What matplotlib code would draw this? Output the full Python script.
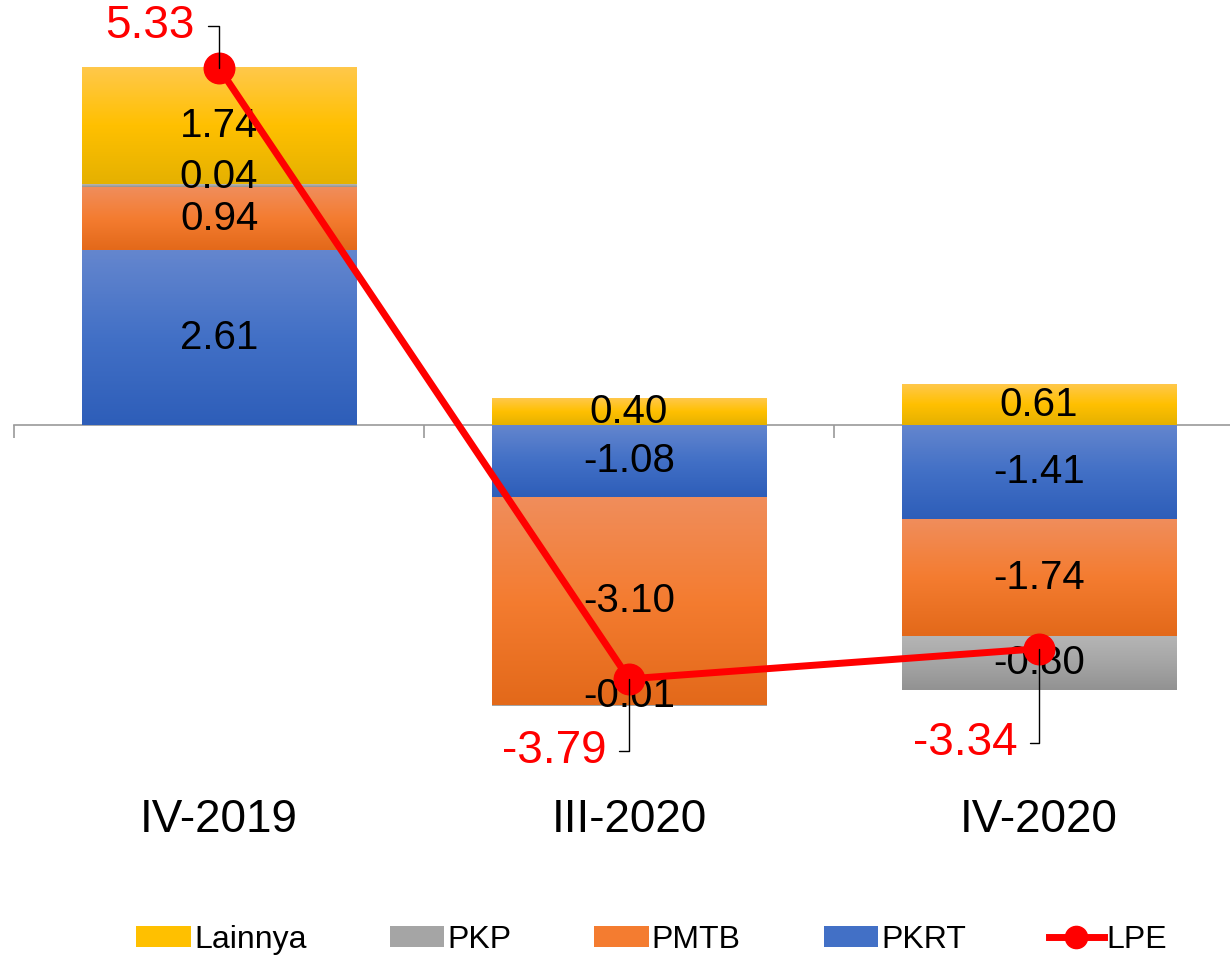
import numpy as np
import matplotlib
matplotlib.use("Agg")
import matplotlib.pyplot as plt
from matplotlib.colors import LinearSegmentedColormap, to_rgb
from matplotlib.patches import Patch
from matplotlib.lines import Line2D

plt.rcParams['font.family'] = ['Liberation Sans', 'DejaVu Sans']

categories = ['IV-2019', 'III-2020', 'IV-2020']
pkrt = [2.61, -1.08, -1.41]
pmtb = [0.94, -3.10, -1.74]
pkp = [0.04, -0.01, -0.80]
lainnya = [1.74, 0.40, 0.61]
lpe = [5.33, -3.79, -3.34]

# stacking order bottom -> top, with gradient stops (top, mid, bottom)
series = [
    ('PKRT', pkrt, ('#6486CE', '#4270C6', '#2E5EB9')),
    ('PMTB', pmtb, ('#F08D5B', '#F47C30', '#E3691A')),
    ('PKP', pkp, ('#B5B5B5', '#A5A5A5', '#929292')),
    ('Lainnya', lainnya, ('#FFC84A', '#FFC000', '#E5B100')),
]
legend_order = ['Lainnya', 'PKP', 'PMTB', 'PKRT']

fig = plt.figure(figsize=(12.3, 9.55), dpi=100)
ax = fig.add_axes([14 / 1230, 175 / 955, 1230 / 1230, 780 / 955])

x = np.arange(len(categories))
width = 0.67
pos_base = np.zeros(len(categories))
neg_base = np.zeros(len(categories))


def grad_rect(ax, x0, x1, y0, y1, stops):
    cmap = LinearSegmentedColormap.from_list('g', [to_rgb(c) for c in stops])
    img = cmap(np.linspace(0, 1, 64))[:, None, :3]
    ax.imshow(img, extent=(x0, x1, min(y0, y1), max(y0, y1)), origin='upper',
              aspect='auto', zorder=2, interpolation='bilinear')


handles = {}
for name, vals, stops in series:
    for i, v in enumerate(vals):
        if v >= 0:
            b = pos_base[i]
            pos_base[i] += v
        else:
            b = neg_base[i]
            neg_base[i] += v
        grad_rect(ax, x[i] - width / 2, x[i] + width / 2, b, b + v, stops)
        # thin slices: label sits a little above the slice, as in the source
        dy = 9 if abs(v) < 0.1 else 0
        ax.annotate(f'{v:.2f}', xy=(x[i], b + v / 2), xytext=(0, dy),
                    textcoords='offset pixels', ha='center', va='center',
                    fontsize=29, color='black', zorder=4)
    handles[name] = Patch(facecolor=stops[1], edgecolor='none')

ax.plot(x, lpe, color='#FF0000', lw=5, marker='o', markersize=22, zorder=5)

offsets = [(-24, 42), (-22, -72), (-21, -94)]
for i, v in enumerate(lpe):
    ax.annotate(f'{v:.2f}', xy=(x[i], v), xytext=offsets[i], textcoords='offset pixels',
                ha='right', va='center', fontsize=33, color='#FF0000', zorder=6,
                arrowprops=dict(arrowstyle='-', color='black', lw=1,
                                connectionstyle='angle,angleA=0,angleB=90,rad=0',
                                relpos=(1, 0.5), shrinkA=7, shrinkB=0))

for i, c in enumerate(categories):
    ax.text(x[i], -5.9, c, ha='center', va='center', fontsize=33, clip_on=False)

ax.set_xlim(-0.5, 2.5)
ax.set_ylim(-5.30, 6.343)
ax.set_yticks([])
for s in ['top', 'right', 'left']:
    ax.spines[s].set_visible(False)
ax.spines['bottom'].set_position(('data', 0))
ax.spines['bottom'].set_color('#9a9a9a')
ax.spines['bottom'].set_linewidth(1.2)
ax.spines['bottom'].set_zorder(1)
ax.set_xticks(np.arange(-0.5, 3, 1))
ax.set_xticklabels([])
ax.tick_params(axis='x', length=9, width=1.2, color='#9a9a9a', direction='out')
ax.patch.set_alpha(0)

leg_handles = [handles[n] for n in legend_order]
leg_handles.append(Line2D([0], [0], color='#FF0000', lw=5, marker='o', markersize=16))
fig.legend(leg_handles, legend_order + ['LPE'], loc='lower center', ncol=5,
           bbox_to_anchor=(0.53, -0.03), frameon=False, fontsize=23,
           handlelength=1.7, handleheight=0.65, handletextpad=0.1, columnspacing=2.6)

fig.savefig('out.png', dpi=100)
